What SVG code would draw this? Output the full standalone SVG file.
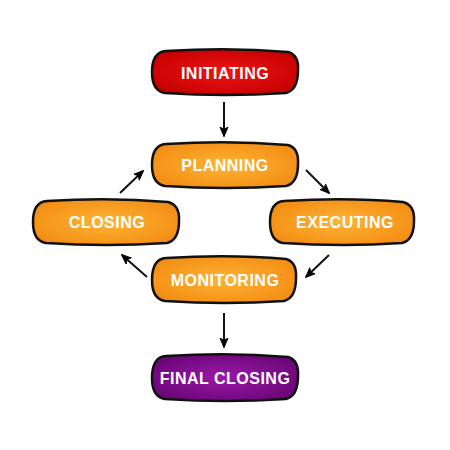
<svg xmlns="http://www.w3.org/2000/svg" width="450" height="450" viewBox="0 0 450 450">
<defs>
<radialGradient id="gOrange" cx="50%" cy="50%" r="60%">
<stop offset="0" stop-color="#FDB436"/>
<stop offset="1" stop-color="#F38C12"/>
</radialGradient>
<radialGradient id="gRed" cx="50%" cy="50%" r="60%">
<stop offset="0" stop-color="#EE1414"/>
<stop offset="1" stop-color="#C40000"/>
</radialGradient>
<radialGradient id="gPurple" cx="50%" cy="50%" r="60%">
<stop offset="0" stop-color="#9A18A8"/>
<stop offset="1" stop-color="#690675"/>
</radialGradient>
<marker id="ah2" viewBox="0 0 12 12" refX="11" refY="6" markerWidth="10" markerHeight="10" orient="auto" markerUnits="userSpaceOnUse">
<path d="M0,1 L12,6 L0,11 L3,6 Z" fill="#000" stroke="#000" stroke-width="1" stroke-linejoin="round"/>
</marker>
</defs>
<style>
.box{stroke:#111;stroke-width:2.5}
.lbl{font-family:"Liberation Sans","DejaVu Sans",sans-serif;font-weight:bold;font-size:16px;fill:#fff;text-anchor:middle;dominant-baseline:central;letter-spacing:0.5px}
.con{stroke:#111;stroke-width:2;fill:none;marker-end:url(#ah2)}
</style>
<rect width="450" height="450" fill="#fff"/>
<g id="connectors">
<line class="con" x1="224" y1="102" x2="224" y2="136"/>
<line class="con" x1="306" y1="170" x2="329" y2="193"/>
<line class="con" x1="329" y1="255" x2="306" y2="277"/>
<line class="con" x1="147" y1="277" x2="122" y2="255"/>
<line class="con" x1="120" y1="193" x2="143" y2="171"/>
<line class="con" x1="224" y1="313" x2="224" y2="347"/>
</g>
<g id="initiating">
<path class="box" fill="url(#gRed)" d="M166,51 Q230,47 288,52 Q299,55 298,70 Q298,90 286,93 Q225,97 165,93 Q152,91 152,72 Q152,52 166,51 Z"/>
<text class="lbl" x="225" y="73">INITIATING</text>
</g>
<g id="planning">
<path class="box" fill="url(#gOrange)" d="M166,144 Q230,140 288,145 Q299,148 298,164 Q298,183 286,186 Q225,190 165,186 Q152,184 152,165 Q152,145 166,144 Z"/>
<text class="lbl" x="225" y="165">PLANNING</text>
</g>
<g id="closing">
<path class="box" fill="url(#gOrange)" d="M47,201 Q110,197 168,202 Q180,205 179,221 Q179,240 167,243 Q106,247 46,243 Q33,241 33,222 Q33,202 47,201 Z"/>
<text class="lbl" x="107" y="222">CLOSING</text>
</g>
<g id="executing">
<path class="box" fill="url(#gOrange)" d="M284,201 Q347,197 403,202 Q415,205 414,221 Q414,240 402,243 Q343,247 283,243 Q270,241 270,222 Q270,202 284,201 Z"/>
<text class="lbl" x="345" y="222">EXECUTING</text>
</g>
<g id="monitoring">
<path class="box" fill="url(#gOrange)" d="M166,258 Q230,254 286,259 Q297,262 296,278 Q296,298 284,301 Q225,305 165,301 Q152,299 152,280 Q152,259 166,258 Z"/>
<text class="lbl" x="225" y="280">MONITORING</text>
</g>
<g id="final-closing">
<path class="box" fill="url(#gPurple)" d="M166,356 Q230,352 288,357 Q299,360 298,376 Q298,396 286,399 Q225,403 165,399 Q152,397 152,378 Q152,357 166,356 Z"/>
<text class="lbl" x="225" y="378">FINAL CLOSING</text>
</g>
</svg>
